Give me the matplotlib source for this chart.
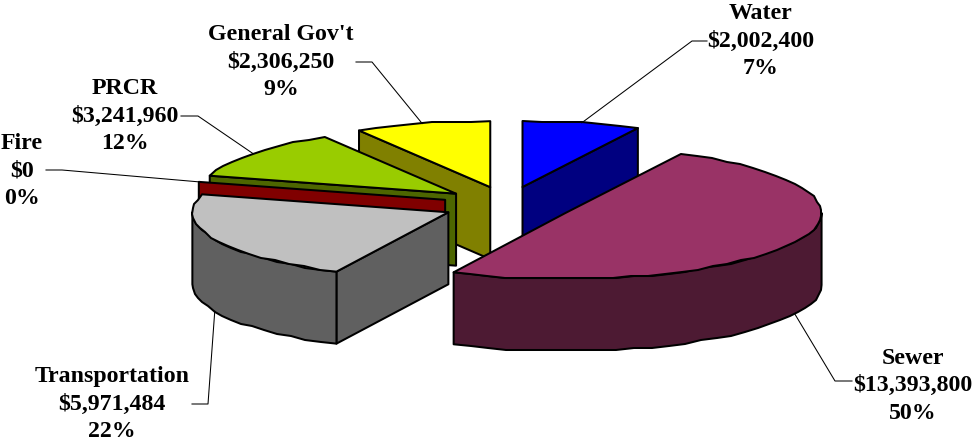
import numpy as np
import matplotlib
matplotlib.use('Agg')
import matplotlib.pyplot as plt
from matplotlib.patches import Polygon

categories = ['Water', 'Sewer', 'Transportation', 'Fire', 'PRCR', "General Gov't"]
values = [2002400, 13393800, 5971484, 0, 3241960, 2306250]

top_colors = ['#0000FF', '#993366', '#C0C0C0', '#FF0000', '#99CC00', '#FFFF00']
side_colors = ['#000080', '#4D1A33', '#606060', '#800000', '#4D6600', '#808000']

# pie geometry in pixels
CX, CY = 507.5, 204.8
RX, RY = 256, 66
EXPLODE_X, EXPLODE_Y = 64.8, 18.3
DEPTH = 72
EDGE = 1.45

# paint order, back to front
draw_order = [5, 0, 4, 3, 2, 1]

# text centre x, first line centre y, elbow of the leader line
label_pos = {
    'Water': (761, 13.5, [(707, 41), (692, 41)]),
    'Sewer': (913, 358, [(852, 381), (835, 381)]),
    'Transportation': (112, 376.5, [(192, 404), (208, 404)]),
    'Fire': (22, 143.5, [(46, 170), (62, 170)]),
    'PRCR': (125, 88.5, [(181, 116), (198, 116)]),
    "General Gov't": (281, 34.5, [(356, 62), (372, 62)]),
}


def rim_point(center, ang):
    a = np.radians(ang)
    return center[0] + RX * np.sin(a), center[1] - RY * np.cos(a)


def rim_path(center, a0, a1):
    n = max(int(abs(a1 - a0) / 4), 1)
    pts = [rim_point(center, a) for a in np.linspace(a0, a1, n + 1)]
    # coarse pixel grid gives the outline its stepped look
    out = [pts[0]]
    for p in pts[1:-1]:
        out.append((round(p[0]), round(p[1] / 2) * 2))
    if len(pts) > 1:
        out.append(pts[-1])
    return out


def down(pts):
    return [(x, y + DEPTH) for x, y in pts]


def side_face(pts, color):
    ax.add_patch(Polygon(pts + down(pts)[::-1], closed=True, facecolor=color,
                         edgecolor='black', lw=EDGE, joinstyle='round'))


fig = plt.figure(figsize=(9.73, 4.44), dpi=100)
ax = fig.add_axes([0, 0, 1, 1])
ax.set_xlim(0, 973)
ax.set_ylim(444, 0)
ax.axis('off')

total = sum(values)
angles = np.cumsum([0] + [v / total * 360 for v in values])
mids = (angles[:-1] + angles[1:]) / 2

centers = []
for m in mids:
    a = np.radians(m)
    centers.append((CX + EXPLODE_X * np.sin(a), CY - EXPLODE_Y * np.cos(a)))

for i in draw_order:
    c, a0, a1 = centers[i], angles[i], angles[i + 1]

    # only the faces turned towards the viewer
    if 180 < a0 < 360:
        side_face([c, rim_point(c, a0)], side_colors[i])
    if 0 < a1 < 180:
        side_face([c, rim_point(c, a1)], side_colors[i])
    front0, front1 = max(a0, 90), min(a1, 270)
    if front1 > front0:
        side_face(rim_path(c, front0, front1), side_colors[i])

    if a1 > a0:
        ax.add_patch(Polygon([c] + rim_path(c, a0, a1), closed=True, facecolor=top_colors[i],
                             edgecolor='black', lw=EDGE, joinstyle='round'))

# labels and leader lines
for i, name in enumerate(categories):
    x, y, elbow = label_pos[name]
    lines = [name, f'${values[i]:,}', f'{values[i] / total * 100:.0f}%']
    for j, s in enumerate(lines):
        ax.text(x, y + j * 27.6, s, ha='center', va='center', fontsize=17.2,
                fontweight='bold', family='Liberation Serif', color='black')
    end = rim_point(centers[i], mids[i])
    if 90 < mids[i] < 270:
        end = (end[0], end[1] + DEPTH)
    pts = elbow + [end]
    ax.plot([p[0] for p in pts], [p[1] for p in pts], color='black', lw=0.75, zorder=1.5)

fig.savefig('out.png', dpi=100)
